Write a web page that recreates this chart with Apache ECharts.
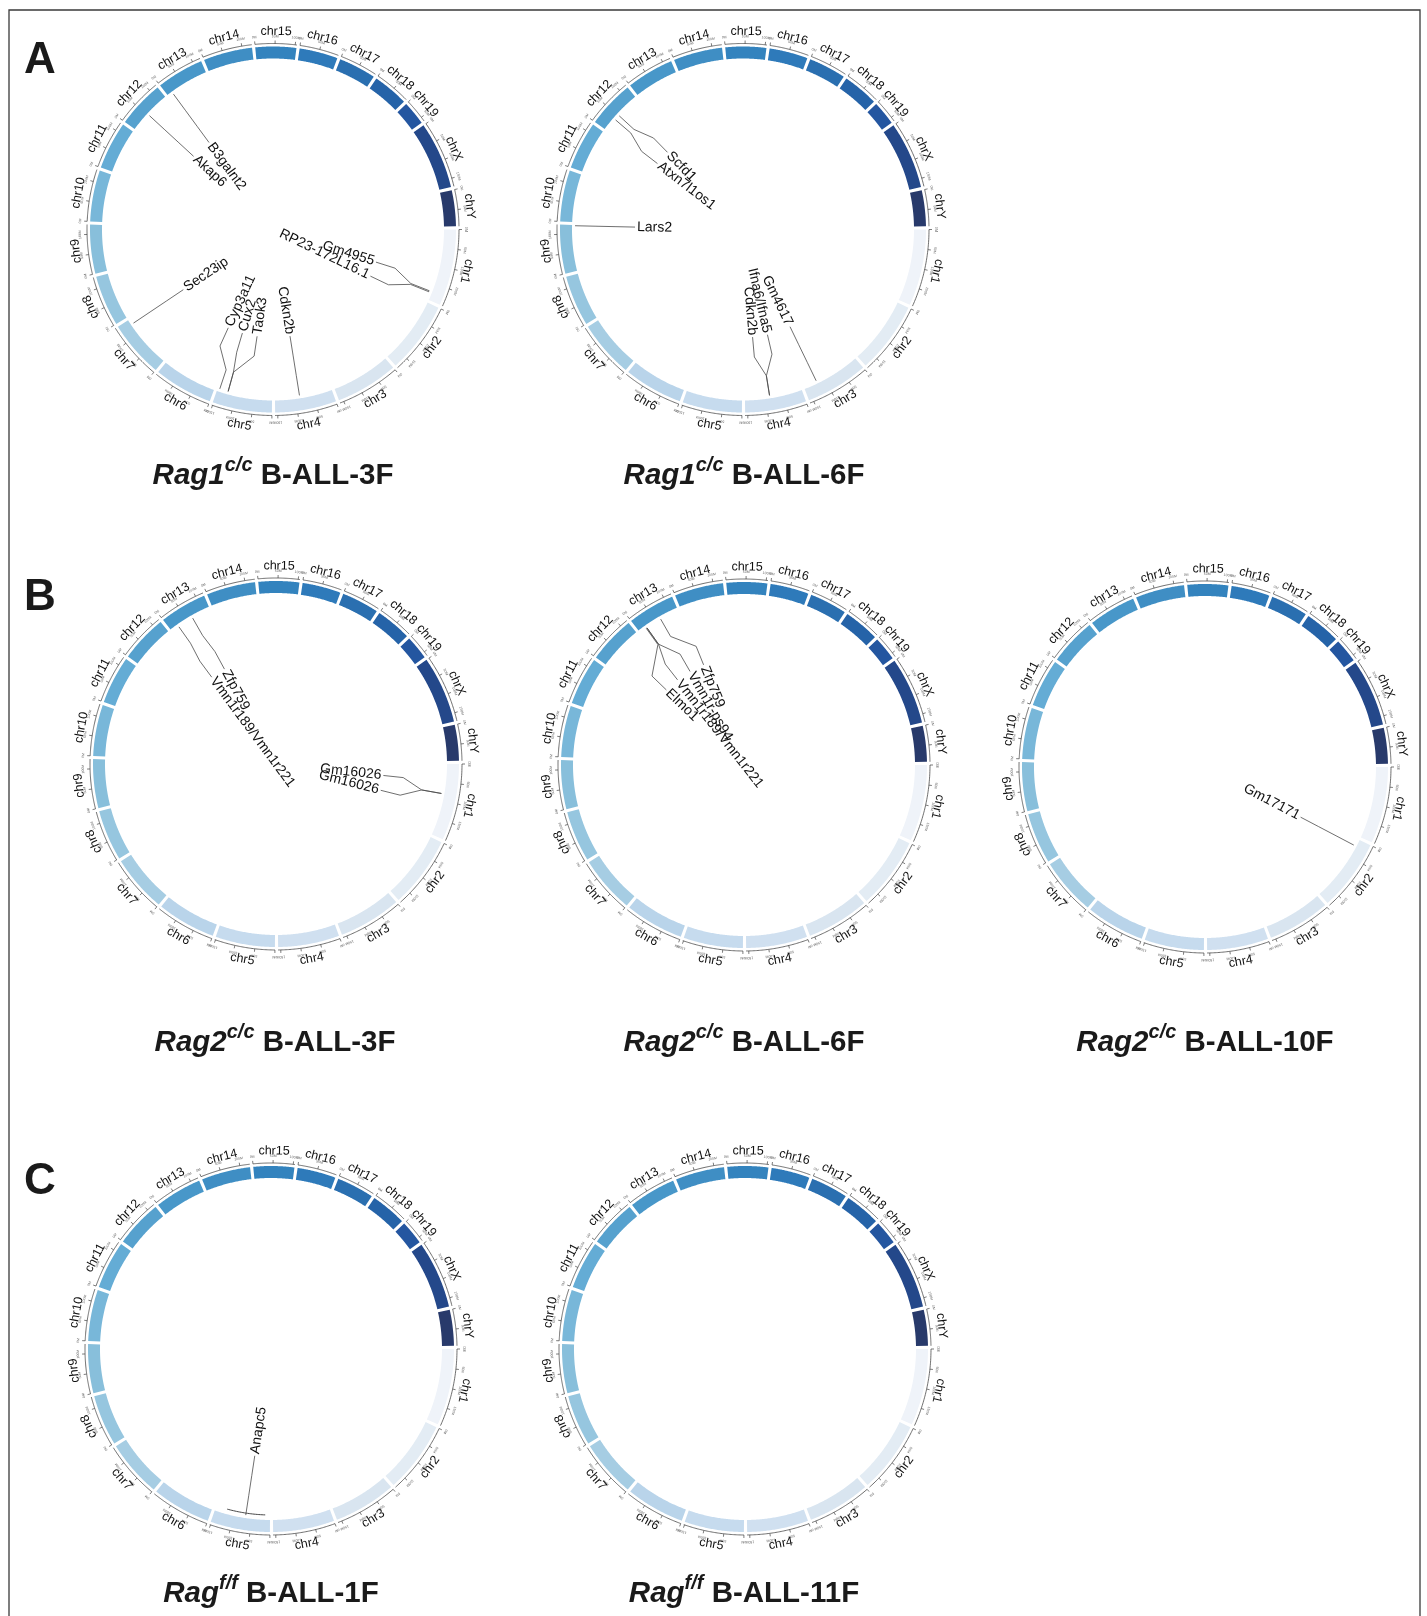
<!DOCTYPE html>
<html>
<head>
<meta charset="utf-8">
<script src="https://cdn.jsdelivr.net/npm/echarts@6/dist/echarts.min.js"></script>
<style>html,body{margin:0;padding:0;background:#fff}#c{width:1427px;height:1616px}</style>
</head>
<body>
<div id="c"></div>
<script>
// ---------------- data ----------------
const chromosomes = ['chr1','chr2','chr3','chr4','chr5','chr6','chr7','chr8','chr9','chr10','chr11','chr12','chr13','chr14','chr15','chr16','chr17','chr18','chr19','chrX','chrY'];
const chromLengthMb = [195.47,182.11,160.04,156.51,151.83,149.74,145.44,129.40,124.60,130.69,122.08,120.13,120.42,124.90,104.04,98.21,94.99,90.70,61.43,171.03,91.74];
const tickStepMb = 50;
const tickLabelSuffix = 'M';

const panelLetters = ['A','B','C'];
const sampleGenotype = ['Rag1','Rag1','Rag2','Rag2','Rag2','Rag','Rag'];
const sampleAllele = ['c/c','c/c','c/c','c/c','c/c','f/f','f/f'];
const sampleName = ['B-ALL-3F','B-ALL-6F','B-ALL-3F','B-ALL-6F','B-ALL-10F','B-ALL-1F','B-ALL-11F'];

// [gene, chromosome, position Mb (, end Mb for a region)]
const genesRag1_3F = [
  ['B3galnt2','chr13',14.2],
  ['Akap6','chr12',53.8],
  ['Sec23ip','chr7',131.0],
  ['Cyp3a11','chr5',145.7],
  ['Cux2','chr5',121.9],
  ['Taok3','chr5',121.6],
  ['Cdkn2b','chr4',89.0],
  ['Gm4955','chr1',172.0],
  ['RP23-172L16.1','chr1',175.0]
];
const genesRag1_6F = [
  ['Scfd1','chr12',53.0],
  ['Atxn7l1os1','chr12',38.0],
  ['Lars2','chr9',122.6],
  ['Ifna6/Ifna5','chr4',88.6],
  ['Cdkn2b','chr4',89.0],
  ['Gm4617','chr3',122.4]
];
const genesRag2_3F = [
  ['Zfp759','chr13',67.2],
  ['Vmn1r189/Vmn1r221','chr13',22.5],
  ['Gm16026','chr1',81.2],
  ['Gm16026','chr1',81.2]
];
const genesRag2_6F = [
  ['Elmo1','chr13',20.3],
  ['Vmn1r189/Vmn1r221','chr13',22.5],
  ['Vmn1r-ps94','chr13',22.6],
  ['Zfp759','chr13',67.2]
];
const genesRag2_10F = [
  ['Gm17171','chr2',19.1]
];
const genesRag_1F = [
  ['Anapc5','chr5',13.3,120.2]
];
const genesRag_11F = [];

const sampleGenes = [genesRag1_3F, genesRag1_6F, genesRag2_3F, genesRag2_6F, genesRag2_10F, genesRag_1F, genesRag_11F];

// ---------------- styles / layout ----------------
const chromColors = ['#eff3f9','#e3ecf4','#d9e5f0','#d0e0f0','#c6dbee','#b9d4ea','#a6cde3','#96c6df','#88bfdb','#78b7d9','#64acd5','#56a1ce','#4897c9','#3f8ec4','#3383be','#2e7aba','#2a6fb0','#2563a8','#2456a0','#24488a','#283a6b'];
const panelCenters = [[273,229.5],[743,229.5],[276,764],[744,765],[1205,767],[271,1349],[745,1349]];
const titleCenters = [[273,476],[744,476],[275,1043],[744,1043],[1205,1043],[271,1594],[744,1594]];
const letterPos = [[40,61],[40,598],[40,1182]];
const FF = '"Liberation Sans", Arial, Helvetica, sans-serif';
const GAP_DEG = 1;
const R_BAND_IN = 171, R_BAND_OUT = 183, R_AXIS = 186, R_TICK = 189, R_TICK_LABEL = 191, R_CHR_LABEL = 198;
const R_REGION = 166, R_LINK0 = 168, R_LINK1 = 148, R_LINK2 = 128, R_LINK3 = 108, R_TEXT = 106;
const LABEL_SEP_DEG = 8;

// ---------------- genome scale ----------------
const totalMb = chromLengthMb.reduce((a,b)=>a+b,0);
const nChr = chromosomes.length;
const unitsPerDeg = totalMb / (360 - nChr*GAP_DEG);
const gapMb = GAP_DEG * unitsPerDeg;
const axisMax = totalMb + nChr*gapMb;
const chromStart = [];
{ let acc = 0; chromLengthMb.forEach((L,i)=>{ chromStart.push(acc); acc += L + gapMb; }); }

function layoutLabels(genes){
  const items = genes.map((g, idx) => {
    const ci = chromosomes.indexOf(g[1]);
    const s = chromStart[ci] + g[2];
    const e = chromStart[ci] + (g.length > 3 ? g[3] : g[2]);
    return {idx, pos:(s+e)/2, s, e};
  }).sort((a,b)=>a.pos-b.pos);
  const sep = LABEL_SEP_DEG * unitsPerDeg;
  const groups = items.map(it => ({members:[it]}));
  const place = g => {
    const n = g.members.length;
    const m = g.members.reduce((a,b)=>a+b.pos,0)/n;
    return g.members.map((_,j)=> m + (j-(n-1)/2)*sep);
  };
  let changed = true;
  while(changed){
    changed = false;
    for(let i=0;i<groups.length-1;i++){
      const p1 = place(groups[i]), p2 = place(groups[i+1]);
      if(p2[0] - p1[p1.length-1] < sep - 1e-9){
        groups[i].members = groups[i].members.concat(groups[i+1].members);
        groups.splice(i+1,1); changed = true; break;
      }
    }
  }
  const out = [];
  groups.forEach(g => { const p = place(g); g.members.forEach((it,j)=> out.push([R_TEXT, p[j], it.pos, it.idx, it.s, it.e])); });
  return out;
}

function arcPoints(api, r, a0, a1, n){
  const pts = [];
  for(let j=0;j<=n;j++) pts.push(api.coord([r, a0 + (a1-a0)*j/n]));
  return pts;
}
function screenAngle(params, p){
  const cs = params.coordSys;
  return Math.atan2(p[1]-cs.cy, p[0]-cs.cx);
}

const option = {animation:false, backgroundColor:'#ffffff', polar:[], angleAxis:[], radiusAxis:[], series:[], graphic:[]};

option.graphic.push({type:'rect', shape:{x:9, y:10, width:1411, height:1640}, style:{fill:null, stroke:'#3a3a3a', lineWidth:1.3}, silent:true});
panelLetters.forEach((L,i)=>{
  option.graphic.push({type:'text', x:letterPos[i][0], y:letterPos[i][1], silent:true,
    style:{text:L, fontFamily:FF, fontSize:44, fontWeight:'bold', fill:'#1a1a1a', align:'center', verticalAlign:'middle'}});
});

sampleGenes.forEach((genes, k) => {
  option.polar.push({center: panelCenters[k], radius: 200});
  option.angleAxis.push({polarIndex:k, type:'value', min:0, max:axisMax, startAngle:0, clockwise:true, show:false});
  option.radiusAxis.push({polarIndex:k, type:'value', min:0, max:200, show:false});

  // chromosome bands
  option.series.push({type:'custom', coordinateSystem:'polar', polarIndex:k, silent:true,
    data: chromosomes.map((c,i)=>[R_BAND_IN, chromStart[i], chromStart[i]+chromLengthMb[i], i]),
    renderItem:(params, api)=>{
      const a0 = api.value(1), a1 = api.value(2);
      const outer = arcPoints(api, R_BAND_OUT, a0, a1, 48);
      const inner = arcPoints(api, R_BAND_IN, a0, a1, 48).reverse();
      return {type:'polygon', shape:{points: outer.concat(inner)}, style:{fill: chromColors[api.value(3)]}};
    }
  });
  // axis ring
  option.series.push({type:'custom', coordinateSystem:'polar', polarIndex:k, silent:true,
    data: chromosomes.map((c,i)=>[R_AXIS, chromStart[i], chromStart[i]+chromLengthMb[i], i]),
    renderItem:(params, api)=>{
      return {type:'polyline', shape:{points: arcPoints(api, R_AXIS, api.value(1), api.value(2), 48)}, style:{stroke:'#4a4a4a', lineWidth:0.8, fill:null}};
    }
  });
  // ticks
  const ticks = [];
  chromosomes.forEach((c,i)=>{ for(let m=0; m<=chromLengthMb[i]; m+=tickStepMb) ticks.push([R_AXIS, chromStart[i]+m, m]); });
  option.series.push({type:'custom', coordinateSystem:'polar', polarIndex:k, silent:true, data: ticks,
    renderItem:(params, api)=>{
      const a = api.value(1);
      const p0 = api.coord([R_AXIS, a]), p1 = api.coord([R_TICK, a]), pt = api.coord([R_TICK_LABEL, a]);
      const th = screenAngle(params, pt);
      return {type:'group', children:[
        {type:'line', shape:{x1:p0[0], y1:p0[1], x2:p1[0], y2:p1[1]}, style:{stroke:'#444', lineWidth:0.7}},
        {type:'text', x:pt[0], y:pt[1], rotation:-(th+Math.PI/2),
          style:{text: api.value(2) + tickLabelSuffix, fontFamily:FF, fontSize:3.5, fill:'#666', align:'center', verticalAlign:'bottom'}}
      ]};
    }
  });
  // chromosome labels
  option.series.push({type:'custom', coordinateSystem:'polar', polarIndex:k, silent:true,
    data: chromosomes.map((c,i)=>[R_CHR_LABEL, chromStart[i]+chromLengthMb[i]/2, i]),
    renderItem:(params, api)=>{
      const p = api.coord([api.value(0), api.value(1)]);
      const th = screenAngle(params, p);
      let deg = th*180/Math.PI; if(deg<0) deg += 360;
      const flip = deg > 24 && deg < 148;
      const rot = flip ? -(th - Math.PI/2) : -(th + Math.PI/2);
      return {type:'text', x:p[0], y:p[1], rotation:rot,
        style:{text: chromosomes[api.value(2)], fontFamily:FF, fontSize:12.5, fill:'#111', align:'center', verticalAlign:'middle'}};
    }
  });
  // gene labels and connectors
  if(genes.length){
    option.series.push({type:'custom', coordinateSystem:'polar', polarIndex:k, silent:true,
      data: layoutLabels(genes),
      renderItem:(params, api)=>{
        const la = api.value(1), ga = api.value(2), s = api.value(4), e = api.value(5);
        const children = [];
        if(e - s > 1){
          children.push({type:'polyline', shape:{points: arcPoints(api, R_REGION, s, e, 24)}, style:{stroke:'#333', lineWidth:0.9, fill:null}});
        }
        const pts = [api.coord([R_LINK0, ga]), api.coord([R_LINK1, ga]), api.coord([R_LINK2, la]), api.coord([R_LINK3, la])];
        children.push({type:'polyline', shape:{points:pts}, style:{stroke:'#4a4a4a', lineWidth:0.8, fill:null}});
        const pt = api.coord([R_TEXT, la]);
        const th = screenAngle(params, pt);
        let rot, align;
        if(Math.cos(th) >= 0){ rot = -th; align = 'right'; } else { rot = -(th + Math.PI); align = 'left'; }
        children.push({type:'text', x:pt[0], y:pt[1], rotation:rot,
          style:{text: genes[api.value(3)][0], fontFamily:FF, fontSize:14, fill:'#111', align, verticalAlign:'middle'}});
        return {type:'group', children};
      }
    });
  }
  // title
  option.graphic.push({type:'text', x:titleCenters[k][0], y:titleCenters[k][1], silent:true,
    style:{
      text:'{i|' + sampleGenotype[k] + '}{s|' + sampleAllele[k] + '}{b| ' + sampleName[k] + '}',
      align:'center', verticalAlign:'middle',
      rich:{
        i:{fontFamily:FF, fontSize:29.5, fontWeight:'bold', fontStyle:'italic', fill:'#1a1a1a', lineHeight:42},
        s:{fontFamily:FF, fontSize:20, fontWeight:'bold', fontStyle:'italic', fill:'#1a1a1a', lineHeight:20, verticalAlign:'top'},
        b:{fontFamily:FF, fontSize:29.5, fontWeight:'bold', fill:'#1a1a1a', lineHeight:42}
      }
    }
  });
});

const chart = echarts.init(document.getElementById('c'), null, {renderer:'canvas', width:1427, height:1616});
chart.setOption(option);
</script>
</body>
</html>
